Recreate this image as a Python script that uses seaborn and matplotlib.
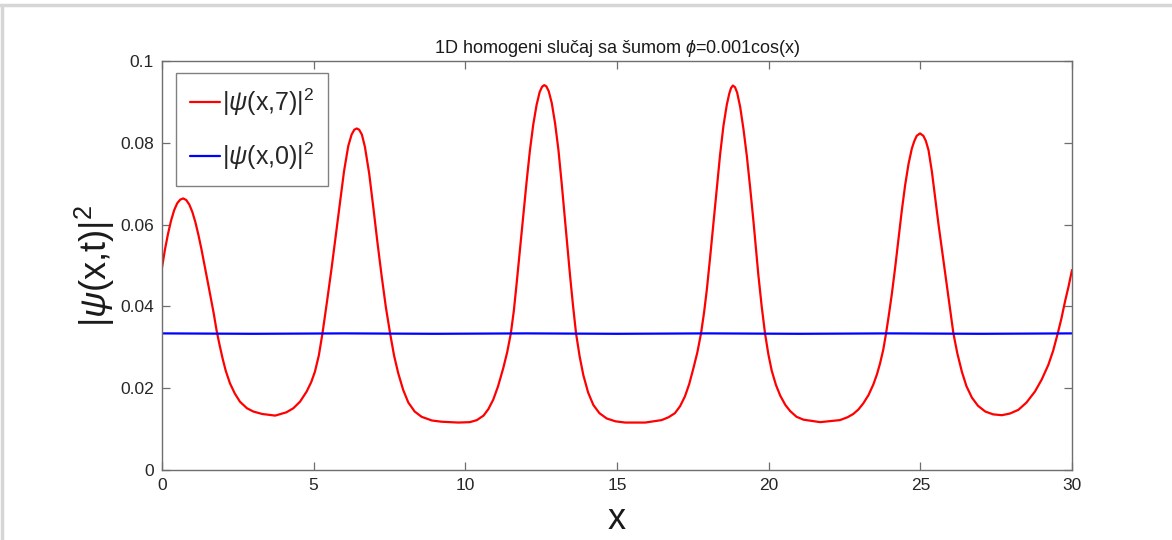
import matplotlib
matplotlib.use("Agg")
import matplotlib.pyplot as plt
import seaborn as sns
import pandas as pd
from matplotlib.lines import Line2D

# ---- data ----
x_red = [0.00, 0.10, 0.20, 0.30, 0.40, 0.50, 0.60, 0.70, 0.80, 0.90, 1.00, 1.10, 1.20, 1.30,
         1.40, 1.50, 1.60, 1.70, 1.80, 1.90, 2.00, 2.10, 2.24, 2.40, 2.57, 2.80, 3.01, 3.30,
         3.73, 4.10, 4.33, 4.55, 4.77, 4.92, 5.04, 5.17, 5.29, 5.44, 5.59, 5.73, 5.87, 6.00,
         6.14, 6.25, 6.34, 6.42, 6.50, 6.59, 6.69, 6.83, 6.97, 7.10, 7.24, 7.38, 7.52, 7.65,
         7.79, 7.95, 8.12, 8.33, 8.56, 8.90, 9.22, 9.77, 10.15, 10.38, 10.60, 10.76, 10.92,
         11.08, 11.25, 11.38, 11.50, 11.60, 11.69, 11.80, 11.91, 12.02, 12.13, 12.24, 12.35,
         12.45, 12.53, 12.60, 12.67, 12.75, 12.85, 12.96, 13.07, 13.18, 13.29, 13.37, 13.45,
         13.55, 13.65, 13.77, 13.89, 14.05, 14.22, 14.42, 14.66, 14.95, 15.27, 15.93, 16.47,
         16.70, 16.91, 17.08, 17.24, 17.38, 17.52, 17.65, 17.77, 17.87, 17.96, 18.07, 18.18,
         18.29, 18.40, 18.51, 18.62, 18.70, 18.76, 18.82, 18.89, 18.96, 19.06, 19.17, 19.28,
         19.39, 19.50, 19.58, 19.66, 19.77, 19.88, 19.99, 20.10, 20.24, 20.38, 20.55, 20.71,
         20.92, 21.15, 21.70, 22.35, 22.60, 22.79, 22.96, 23.12, 23.29, 23.45, 23.57, 23.67,
         23.78, 23.87, 23.96, 24.06, 24.17, 24.28, 24.39, 24.50, 24.61, 24.72, 24.80, 24.88,
         24.99, 25.10, 25.18, 25.27, 25.38, 25.49, 25.60, 25.71, 25.82, 25.93, 26.01, 26.09,
         26.22, 26.37, 26.52, 26.70, 26.90, 27.14, 27.40, 27.69, 27.95, 28.23, 28.50, 28.78,
         29.00, 29.22, 29.38, 29.53, 29.65, 29.77, 29.89, 30.00]
y_red = [0.0495, 0.0540, 0.0578, 0.0610, 0.0635, 0.0652, 0.0661, 0.0664, 0.0660, 0.0649,
         0.0631, 0.0606, 0.0575, 0.0540, 0.0502, 0.0463, 0.0424, 0.0385, 0.0341, 0.0305,
         0.0272, 0.0243, 0.0212, 0.0187, 0.0167, 0.0151, 0.0143, 0.0137, 0.0133, 0.0141,
         0.0151, 0.0167, 0.0192, 0.0215, 0.0240, 0.0280, 0.0334, 0.0412, 0.0493, 0.0575,
         0.0655, 0.0730, 0.0792, 0.0820, 0.0832, 0.0835, 0.0832, 0.0820, 0.0790, 0.0725,
         0.0640, 0.0558, 0.0475, 0.0398, 0.0334, 0.0280, 0.0236, 0.0196, 0.0165, 0.0143,
         0.0130, 0.0121, 0.0118, 0.0116, 0.0117, 0.0122, 0.0133, 0.0149, 0.0172, 0.0205,
         0.0249, 0.0288, 0.0334, 0.0390, 0.0455, 0.0538, 0.0620, 0.0705, 0.0782, 0.0845,
         0.0893, 0.0924, 0.0937, 0.0941, 0.0938, 0.0926, 0.0897, 0.0847, 0.0782, 0.0698,
         0.0607, 0.0542, 0.0477, 0.0402, 0.0334, 0.0277, 0.0232, 0.0189, 0.0159, 0.0139,
         0.0126, 0.0119, 0.0116, 0.0116, 0.0122, 0.0129, 0.0139, 0.0156, 0.0180, 0.0210,
         0.0249, 0.0288, 0.0334, 0.0385, 0.0440, 0.0520, 0.0604, 0.0690, 0.0772, 0.0842,
         0.0893, 0.0920, 0.0934, 0.0940, 0.0936, 0.0923, 0.0888, 0.0833, 0.0768, 0.0690,
         0.0607, 0.0543, 0.0477, 0.0400, 0.0334, 0.0283, 0.0243, 0.0208, 0.0182, 0.0159,
         0.0144, 0.0130, 0.0123, 0.0117, 0.0122, 0.0129, 0.0137, 0.0148, 0.0163, 0.0183,
         0.0209, 0.0234, 0.0260, 0.0295, 0.0334, 0.0378, 0.0430, 0.0495, 0.0566, 0.0635,
         0.0697, 0.0748, 0.0786, 0.0804, 0.0817, 0.0823, 0.0817, 0.0805, 0.0782, 0.0730,
         0.0665, 0.0600, 0.0540, 0.0478, 0.0420, 0.0376, 0.0334, 0.0285, 0.0240, 0.0205,
         0.0177, 0.0157, 0.0143, 0.0136, 0.0134, 0.0138, 0.0147, 0.0165, 0.0192, 0.0221,
         0.0257, 0.0292, 0.0334, 0.0370, 0.0412, 0.0450, 0.0489]

x_blue = [0, 3, 6, 9, 12, 15, 18, 21, 24, 27, 30]
y_blue = [0.0334, 0.0333, 0.0334, 0.0333, 0.0334, 0.0333, 0.0334, 0.0333, 0.0334, 0.0333, 0.0334]

x_ticks = [0, 5, 10, 15, 20, 25, 30]
y_ticks = [0, 0.02, 0.04, 0.06, 0.08, 0.1]
y_tick_labels = ["0", "0.02", "0.04", "0.06", "0.08", "0.1"]

label_red = r"|$\psi$(x,7)|$^2$"
label_blue = r"|$\psi$(x,0)|$^2$"
title_text = r"1D homogeni slučaj sa šumom $\phi$=0.001cos(x)"
xlabel_text = "x"
ylabel_text = r"|$\psi$(x,t)|$^2$"

# ---- style ----
sns.set_theme(style="white")
plt.rcParams["font.family"] = ["Liberation Sans", "DejaVu Sans"]
plt.rcParams["mathtext.fontset"] = "custom"
plt.rcParams["mathtext.rm"] = "Liberation Sans"
plt.rcParams["mathtext.it"] = "Liberation Sans:italic"
plt.rcParams["mathtext.bf"] = "Liberation Sans:bold"

fig = plt.figure(figsize=(11.72, 5.40), dpi=100)
fig.patch.set_facecolor("white")
ax = fig.add_axes([162 / 1172, 70 / 540, 910 / 1172, 409 / 540])

df_red = pd.DataFrame({"x": x_red, "y": y_red})
df_blue = pd.DataFrame({"x": x_blue, "y": y_blue})
sns.lineplot(data=df_red, x="x", y="y", ax=ax, color="#ff0000", linewidth=1.6,
             estimator=None, sort=False)
sns.lineplot(data=df_blue, x="x", y="y", ax=ax, color="#0000ff", linewidth=1.6,
             estimator=None, sort=False)
for ln in ax.lines:
    ln.set_solid_joinstyle("round")

ax.set_xlim(0, 30)
ax.set_ylim(0, 0.1)
ax.set_xticks(x_ticks)
ax.set_xticklabels([str(t) for t in x_ticks])
ax.set_yticks(y_ticks)
ax.set_yticklabels(y_tick_labels)

spine_col = "#6e6e6e"
for s in ax.spines.values():
    s.set_visible(True)
    s.set_color(spine_col)
    s.set_linewidth(1.0)
ax.tick_params(axis="both", which="both", direction="in", length=6, width=0.9,
               color=spine_col, labelsize=12.5, labelcolor="#262626",
               top=True, right=True, bottom=True, left=True, pad=6)

ax.set_title(title_text, fontsize=13, color="#1a1a1a", pad=6)
ax.set_xlabel(xlabel_text, fontsize=26, color="#1a1a1a", labelpad=6)
ax.set_ylabel(ylabel_text, fontsize=26, color="#1a1a1a", labelpad=2)

handles = [Line2D([0], [0], color="#ff0000", lw=1.6),
           Line2D([0], [0], color="#0000ff", lw=1.6)]
leg = ax.legend(handles, [label_red, label_blue], loc="upper left",
                bbox_to_anchor=(14 / 910, 1 - 12 / 409), fontsize=18,
                frameon=True, fancybox=False, framealpha=1, edgecolor="#808080",
                handlelength=1.2, handletextpad=0.08, borderpad=0.55,
                labelspacing=0.9, borderaxespad=0)
leg.get_frame().set_linewidth(1.0)

# light frame around the picture (top / left edges as in reference)
fig.add_artist(Line2D([0, 1], [1 - 5 / 540, 1 - 5 / 540], transform=fig.transFigure,
                      color="#d6d6d6", lw=2.5))
fig.add_artist(Line2D([2 / 1172, 2 / 1172], [0, 1 - 5 / 540], transform=fig.transFigure,
                      color="#d6d6d6", lw=2.5))

fig.savefig("out.png", dpi=100, facecolor="white")
